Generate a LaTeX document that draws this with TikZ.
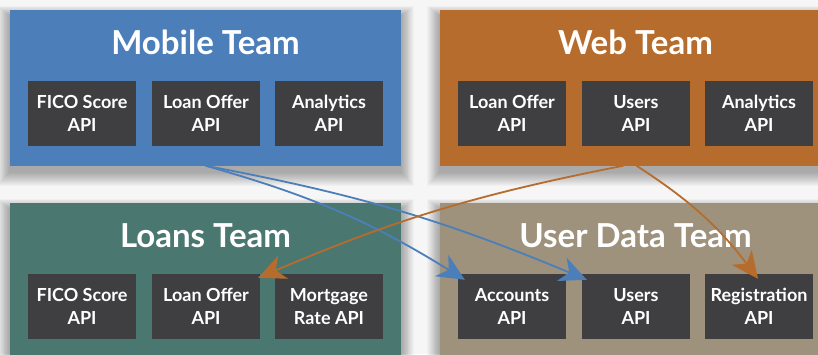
\documentclass[tikz,border=0pt]{standalone}
\usepackage{fontspec}
\setmainfont{Lato}
\usetikzlibrary{arrows.meta,calc}
\pgfdeclarelayer{bglayer}
\pgfdeclarelayer{shadowlayer}
\pgfsetlayers{bglayer,shadowlayer,main}
\definecolor{bgc}{HTML}{F6F6F6}
\definecolor{mobc}{HTML}{4C7FB9}
\definecolor{webc}{HTML}{B66C2D}
\definecolor{loanc}{HTML}{4A7871}
\definecolor{udc}{HTML}{9E927D}
\definecolor{apic}{HTML}{3F3F41}
\tikzset{
  team/.style={draw=none, minimum width=391pt, minimum height=155.5pt, inner sep=0pt},
  ttl/.style={text=white, font=\bfseries\fontsize{33}{36}\selectfont, anchor=base, inner sep=0pt},
  api/.style={fill=apic, minimum width=108pt, minimum height=65pt, inner sep=0pt, text=white,
    align=center, font=\bfseries\fontsize{18}{23}\selectfont},
  conn/.style={line width=1.8pt, -{Stealth[length=27pt,width=25pt,inset=8pt]}},
  shd/.style={fill=black, opacity=0.022},
}
\begin{document}
\begin{tikzpicture}[x=1pt,y=-1pt]
\clip (0,0) rectangle (818,354);
\begin{pgfonlayer}{bglayer}
\fill[bgc] (0,0) rectangle (818,354);
\end{pgfonlayer}
% team boxes
\node[team, fill=mobc] (mob) at (205.5,87.75) {};
\node[team, fill=webc] (web) at (635.5,87.75) {};
\node[team, fill=loanc] (loan) at (205.5,280.75) {};
\node[team, fill=udc] (ud) at (635.5,280.75) {};
\begin{pgfonlayer}{shadowlayer}
\foreach \b in {mob,web,loan,ud}{
  \foreach \i in {1,...,14}{
    \fill[shd] ($(\b.north west)+(-\i*0.9,-\i*0.7+6)$) rectangle ($(\b.south east)+(\i*0.9,\i+6)$);
  }
}
\end{pgfonlayer}
% titles
\node[ttl] (mobt) at (205.5,54) {Mobile Team};
\node[ttl] (webt) at (635.5,54) {Web Team};
\node[ttl] (loant) at (205.5,247) {Loans Team};
\node[ttl] (udt) at (635.5,247) {User Data Team};
% APIs
\node[api] (m1) at (82,113.5) {FICO Score\\API};
\node[api] (m2) at (206,113.5) {Loan Offer\\API};
\node[api] (m3) at (329,113.5) {Analytics\\API};
\node[api] (w1) at (512,113.5) {Loan Offer\\API};
\node[api] (w2) at (636,113.5) {Users\\API};
\node[api] (w3) at (759,113.5) {Analytics\\API};
\node[api] (l1) at (82,306.5) {FICO Score\\API};
\node[api] (l2) at (206,306.5) {Loan Offer\\API};
\node[api] (l3) at (329,306.5) {Mortgage\\Rate API};
\node[api] (u1) at (512,306.5) {Accounts\\API};
\node[api] (u2) at (636,306.5) {Users\\API};
\node[api] (u3) at (759,306.5) {Registration\\API};
% connectors
\draw[conn, mobc] (mob.south) to[bend left=8] ($(u1.north west)+(7,6)$);
\draw[conn, mobc] (mob.south) to[bend left=6] ($(u2.north west)+(5,6)$);
\draw[conn, webc] ($(web.south)+(-12,0)$) to[bend right=6] ($(l2.north east)+(-2,4)$);
\draw[conn, webc] ($(web.south)+(1,0)$) to[bend left=10] ($(u3.north)+(-1,5)$);
\end{tikzpicture}
\end{document}
